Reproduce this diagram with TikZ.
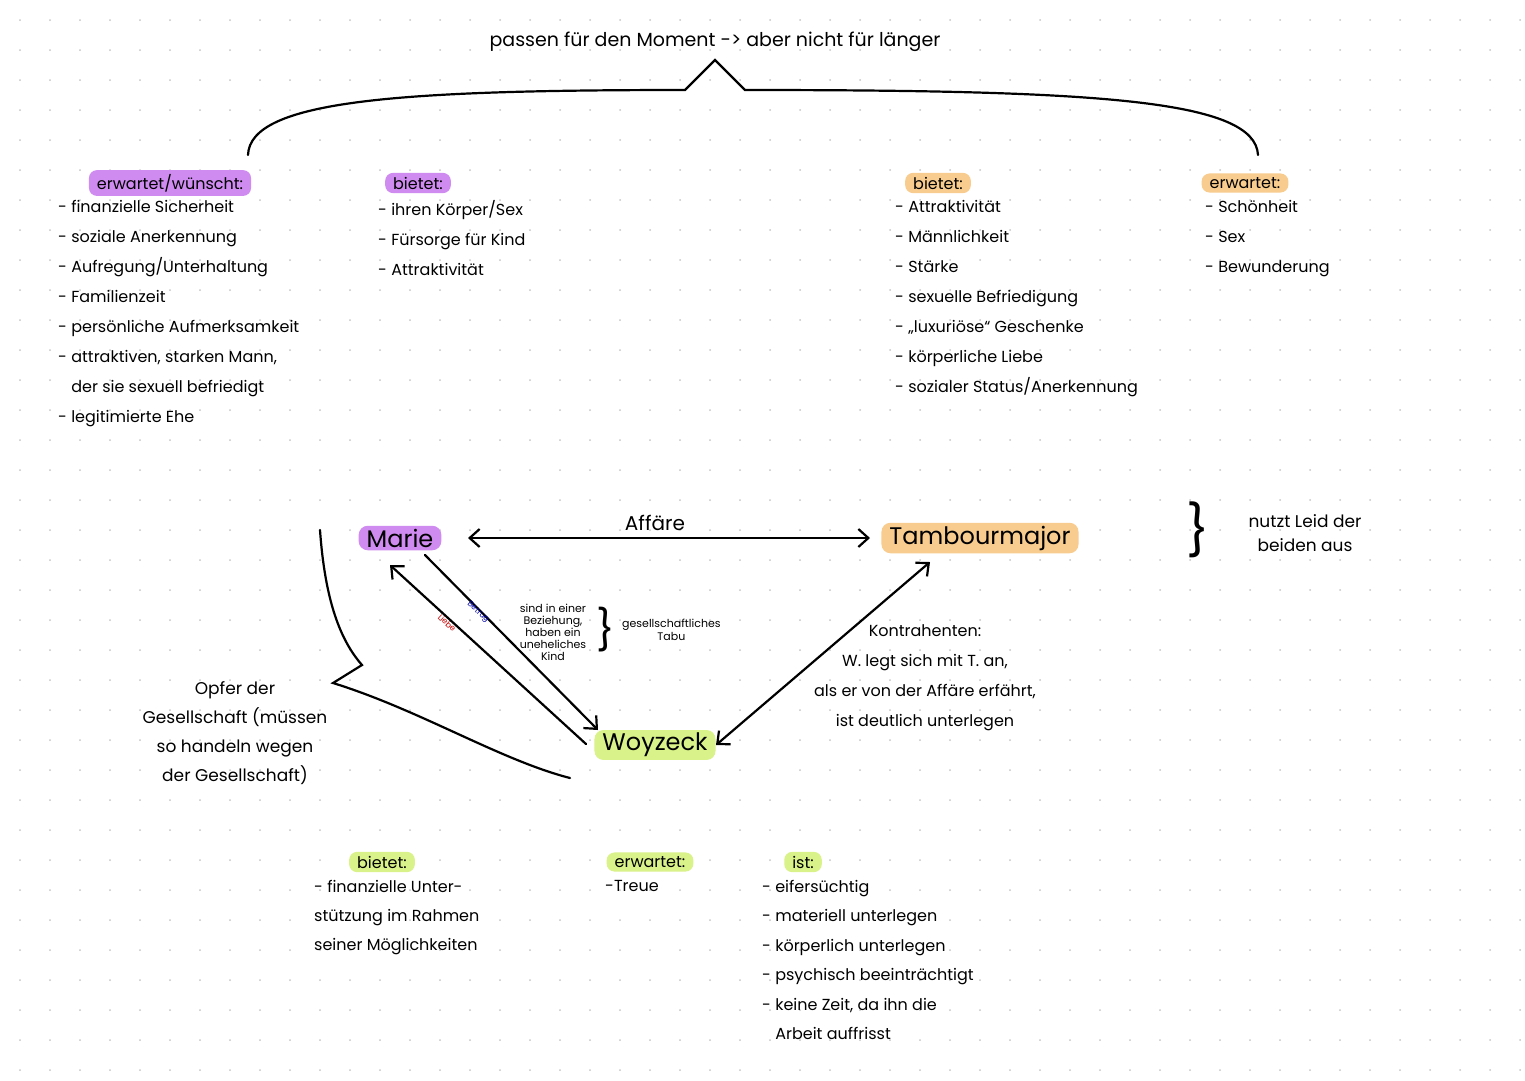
\documentclass[tikz,border=0pt]{standalone}
\usepackage{fontspec}
\setmainfont{Poppins}
\usetikzlibrary{arrows.meta}
\definecolor{pur}{HTML}{CF8BF0}
\definecolor{ora}{HTML}{F8CC8E}
\definecolor{gre}{HTML}{D9F28A}
\begin{document}
\begin{tikzpicture}[x=1pt,y=-1pt,
  txt/.style={font=\fontsize{15}{22}\selectfont,inner sep=0pt,align=left},
  sm/.style={font=\fontsize{9}{11}\selectfont,inner sep=0pt,align=center},
  hl/.style={rounded corners=8pt,inner xsep=8pt,inner ysep=4pt,font=\fontsize{16}{18}\selectfont},
  big/.style={rounded corners=9pt,inner xsep=8pt,inner ysep=3pt,font=\fontsize{24}{26}\selectfont},
  ln/.style={line width=2.2pt,line cap=round},
  ar/.style={ln,-{Straight Barb[length=10pt,width=18pt]}},
  dar/.style={ln,{Straight Barb[length=10pt,width=18pt]}-{Straight Barb[length=10pt,width=18pt]}}]
\useasboundingbox[fill=white] (0,0) rectangle (1525,1080);
\foreach \i in {0,...,50}{\foreach \j in {0,...,35}{
  \fill[gray!45] (20+30*\i,20+30*\j) circle (1pt);}}
% top
\node[txt,font=\fontsize{19}{22}\selectfont] (top) at (715,42) {passen für den Moment -> aber nicht für länger};
\coordinate (bl) at (248,155); \coordinate (br) at (1258,155);
\coordinate (pk) at (715,60);
\draw[ln] (bl) .. controls (250,100) and (400,90) .. (685,90) -- (pk) -- (745,90) .. controls (1100,90) and (1255,100) .. (br);
% headings
\node[hl,fill=pur] (h1) at (170,183) {erwartet/wünscht:};
\node[hl,fill=pur] (h2) at (418,183) {bietet:};
\node[hl,fill=ora] (h3) at (938,183) {bietet:};
\node[hl,fill=ora] (h4) at (1245,183) {erwartet:};
\node[txt,anchor=north west,font=\fontsize{16}{30}\selectfont] (l1) at (58,200) {- finanzielle Sicherheit\\- soziale Anerkennung\\- Aufregung/Unterhaltung\\- Familienzeit\\- persönliche Aufmerksamkeit\\- attraktiven, starken Mann,\\\phantom{- }der sie sexuell befriedigt\\- legitimierte Ehe};
\node[txt,anchor=north west,font=\fontsize{16}{30}\selectfont] (l2) at (378,200) {- ihren Körper/Sex\\- Fürsorge für Kind\\- Attraktivität};
\node[txt,anchor=north west,font=\fontsize{16}{30}\selectfont] (l3) at (895,200) {- Attraktivität\\- Männlichkeit\\- Stärke\\- sexuelle Befriedigung\\- „luxuriöse“ Geschenke\\- körperliche Liebe\\- sozialer Status/Anerkennung};
\node[txt,anchor=north west,font=\fontsize{16}{30}\selectfont] (l4) at (1205,200) {- Schönheit\\- Sex\\- Bewunderung};
% main nodes
\node[big,fill=pur] (marie) at (400,538) {Marie};
\node[big,fill=ora] (tam) at (980,538) {Tambourmajor};
\node[big,fill=gre] (woy) at (655,745) {Woyzeck};
\coordinate (a1) at (468,538); \coordinate (a2) at (870,538);
\draw[dar] (a1) -- (a2);
\node[txt,font=\fontsize{20}{22}\selectfont] (aff) at (655,523) {Affäre};
\coordinate (tw1) at (930,562); \coordinate (tw2) at (716,745);
\draw[dar] (tw1) -- (tw2);
\coordinate (m1) at (390,565); \coordinate (w1) at (586,744);
\coordinate (m2) at (425,555); \coordinate (w2) at (598,730);
\draw[ar] (w1) -- (m1);
\draw[ar] (m2) -- (w2);
\node[sm,rotate=-42,text=blue!70!black,font=\fontsize{8}{9}\selectfont] (bet) at (478,612) {Betrug};
\node[sm,rotate=-42,text=red!80!black,font=\fontsize{8}{9}\selectfont] (lie) at (447,623) {Liebe};
\node[sm,font=\fontsize{11}{12}\selectfont] (bez) at (553,632) {sind in einer\\Beziehung,\\haben ein\\uneheliches\\Kind};
\node[txt,font=\fontsize{40}{40}\selectfont] (br1) at (606,630) {\}};
\node[sm,font=\fontsize{11}{13}\selectfont,anchor=west] (tabu) at (622,630) {gesellschaftliches\\Tabu};
\node[txt,align=center,font=\fontsize{16}{30}\selectfont] (kon) at (925,678) {Kontrahenten:\\W. legt sich mit T. an,\\als er von der Affäre erfährt,\\ist deutlich unterlegen};
\node[txt,font=\fontsize{50}{50}\selectfont] (br2) at (1198,530) {\}};
\node[txt,align=center,font=\fontsize{17}{24}\selectfont] (nutzt) at (1305,533) {nutzt Leid der\\beiden aus};
% left bracket
\coordinate (lb1) at (320,530); \coordinate (lb2) at (570,778);
\draw[ln] (lb1) .. controls (325,600) and (340,640) .. (362,665) -- (333,683) .. controls (420,710) and (500,760) .. (lb2);
\node[txt,align=center,font=\fontsize{17}{29}\selectfont] (opf) at (235,733) {Opfer der\\Gesellschaft (müssen\\so handeln wegen\\der Gesellschaft)};
% bottom
\node[hl,fill=gre] (b1) at (382,862) {bietet:};
\node[hl,fill=gre] (b2) at (650,862) {erwartet:};
\node[hl,fill=gre] (b3) at (803,862) {ist:};
\node[txt,anchor=north west,font=\fontsize{16}{29}\selectfont] (bl1) at (314,880) {- finanzielle Unter-\\stützung im Rahmen\\seiner Möglichkeiten};
\node[txt,anchor=north west,font=\fontsize{16}{29}\selectfont] (bl2) at (605,880) {-Treue};
\node[txt,anchor=north west,font=\fontsize{16}{29.5}\selectfont] (bl3) at (762,880) {- eifersüchtig\\- materiell unterlegen\\- körperlich unterlegen\\- psychisch beeinträchtigt\\- keine Zeit, da ihn die\\\phantom{- }Arbeit auffrisst};
\end{tikzpicture}
\end{document}
